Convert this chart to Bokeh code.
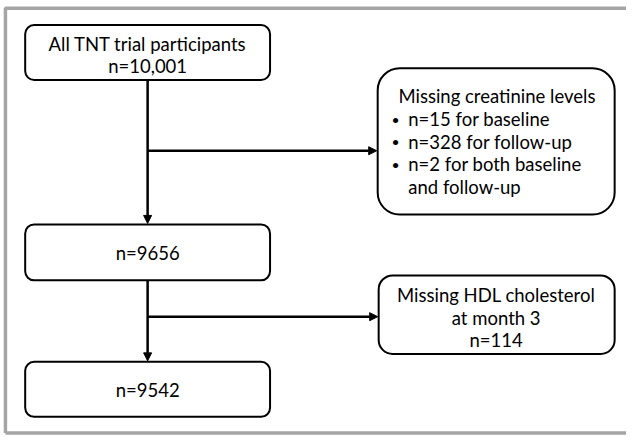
from bokeh.plotting import figure
from bokeh.models import Range1d, Arrow, NormalHead
from bokeh.core.properties import value
from bokeh.embed import file_html
from bokeh.resources import INLINE

# ---- content ----
main_labels = [["All TNT trial participants", "n=10,001"], ["n=9656"], ["n=9542"]]
excl1_title = "Missing creatinine levels"
excl1_items = ["n=15 for baseline", "n=328 for follow-up", "n=2 for both baseline", "and follow-up"]
excl1_bullet = [True, True, True, False]
excl2_lines = ["Missing HDL cholesterol", "at month 3", "n=114"]

# ---- layout (pixel coordinates of the reference) ----
main_left, main_right = 25, 273
main_tops = [25, 228, 368]
main_bottoms = [81, 285, 424]
main_line_y = [[44, 67], [257], [397]]
cx = 149

ex_left = [382, 383]
ex_right = [622, 622]
ex_top = [69, 280]
ex_bottom = [218, 360]
branch_y = [153, 322]

FONT = "Lato"
FS = "18.5px"

W, H = 626, 435
p = figure(width=W, height=H, output_backend="svg", toolbar_location=None,
           x_range=Range1d(0, 634), y_range=Range1d(443, 0),
           min_border=0)
p.axis.visible = False
p.grid.visible = False
p.outline_line_color = None
p.background_fill_color = "white"
p.border_fill_color = "white"

# gray frame
p.line([5, 5, 634], [440.5, 8, 8], line_color="#a5a5a5", line_width=3.5)
p.line([5, 634], [440.5, 440.5], line_color="#a5a5a5", line_width=3.5)

# main boxes
p.quad(left=[main_left] * 3, right=[main_right] * 3, top=main_tops, bottom=main_bottoms,
       fill_color="white", line_color="black", line_width=2, border_radius=9)
# exclusion boxes
p.quad(left=[ex_left[0]], right=[ex_right[0]], top=[ex_top[0]], bottom=[ex_bottom[0]],
       fill_color="white", line_color="black", line_width=2, border_radius=22)
p.quad(left=[ex_left[1]], right=[ex_right[1]], top=[ex_top[1]], bottom=[ex_bottom[1]],
       fill_color="white", line_color="black", line_width=2, border_radius=14)

# arrows
for i in range(2):
    p.add_layout(Arrow(end=NormalHead(size=8, line_color="black", fill_color="black", line_width=1),
                       x_start=cx, y_start=main_bottoms[i], x_end=cx, y_end=main_tops[i + 1] - 1,
                       line_width=2.5, line_color="black"))
    p.add_layout(Arrow(end=NormalHead(size=8, line_color="black", fill_color="black", line_width=1),
                       x_start=cx, y_start=branch_y[i], x_end=ex_left[i] - 1, y_end=branch_y[i],
                       line_width=2.5, line_color="black"))

# main texts
xs, ys, ts = [], [], []
for lines, yl in zip(main_labels, main_line_y):
    for t, y in zip(lines, yl):
        xs.append(cx); ys.append(y); ts.append(t)
p.text(x=xs, y=ys, text=ts, text_align="center", text_baseline="middle",
       text_font=value(FONT), text_font_size=FS, text_color="black")

# exclusion 1
p.text(x=[403], y=[97], text=[excl1_title], text_align="left", text_baseline="middle",
       text_font=value(FONT), text_font_size=FS, text_color="black")
item_y = [121, 144, 167, 190]
p.text(x=[413] * 4, y=item_y, text=excl1_items, text_align="left", text_baseline="middle",
       text_font=value(FONT), text_font_size=FS, text_color="black")
by = [y for y, b in zip(item_y, excl1_bullet) if b]
p.text(x=[400] * len(by), y=by, text=["•"] * len(by), text_align="center", text_baseline="middle",
       text_font=value(FONT), text_font_size="14px", text_color="black")

# exclusion 2
p.text(x=[502] * 3, y=[300, 323, 346], text=excl2_lines, text_align="center", text_baseline="middle",
       text_font=value(FONT), text_font_size=FS, text_color="black")

open("out.html", "w").write(file_html(p, INLINE))
